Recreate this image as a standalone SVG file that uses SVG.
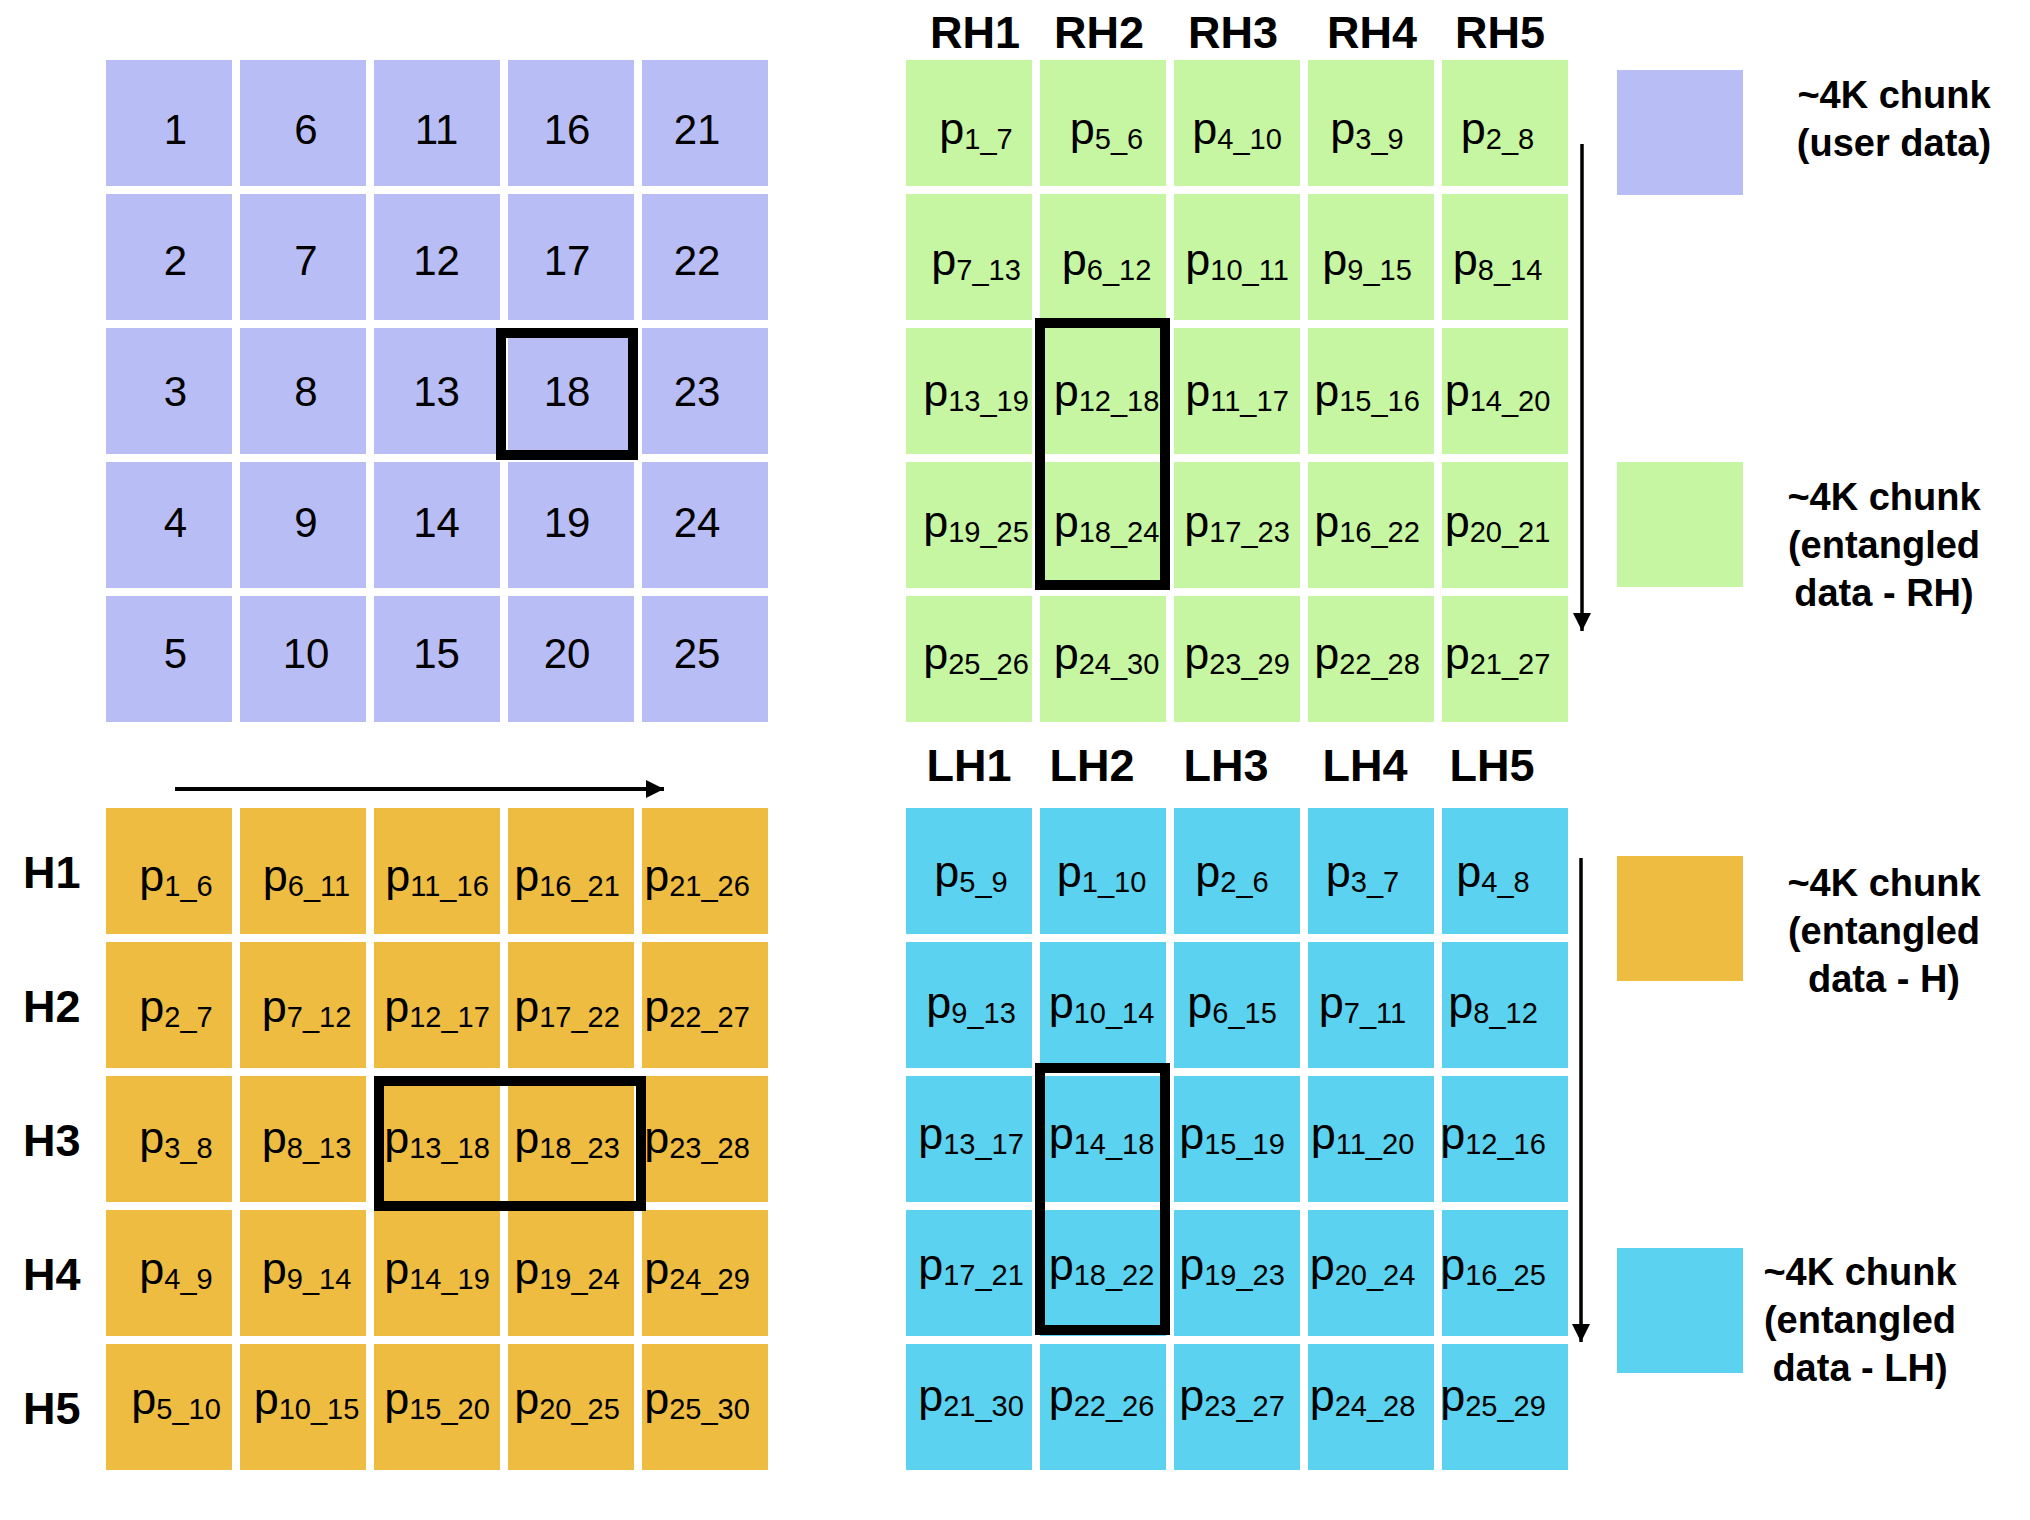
<svg xmlns="http://www.w3.org/2000/svg" width="2030" height="1520" viewBox="0 0 2030 1520">
<style>
text{font-family:"Liberation Sans",Arial,Helvetica,sans-serif;fill:#000}
.b{fill:#B8BDF5}.g{fill:#C6F6A2}.o{fill:#EEBC40}.c{fill:#5BD2EF}
.n{font-size:42px;text-anchor:middle}
.p{font-size:45px;text-anchor:middle}
.s{font-size:29px}
.h{font-size:45px;font-weight:bold;text-anchor:middle}
.hs{font-size:45px;font-weight:bold}
.l{font-size:38px;font-weight:bold;text-anchor:middle}
.hl{fill:none;stroke:#000;stroke-width:10}
.ar{stroke:#000;fill:none;marker-end:url(#ah)}
</style>
<defs>
<marker id="ah" markerUnits="userSpaceOnUse" markerWidth="18" markerHeight="18" refX="18" refY="9" orient="auto" viewBox="0 0 18 18">
<path d="M0,0 L18,9 L0,18 Z" fill="#000"/>
</marker>
</defs>
<rect width="2030" height="1520" fill="#fff"/>

<!-- Blue user data grid -->
<g id="user-data">
<g id="u1"><rect class="b" x="106" y="60" width="126" height="126"/><text class="n" x="175.5" y="144">1</text></g>
<g id="u2"><rect class="b" x="106" y="194" width="126" height="126"/><text class="n" x="175.5" y="275">2</text></g>
<g id="u3"><rect class="b" x="106" y="328" width="126" height="126"/><text class="n" x="175.5" y="406">3</text></g>
<g id="u4"><rect class="b" x="106" y="462" width="126" height="126"/><text class="n" x="175.5" y="537">4</text></g>
<g id="u5"><rect class="b" x="106" y="596" width="126" height="126"/><text class="n" x="175.5" y="668">5</text></g>
<g id="u6"><rect class="b" x="240" y="60" width="126" height="126"/><text class="n" x="306" y="144">6</text></g>
<g id="u7"><rect class="b" x="240" y="194" width="126" height="126"/><text class="n" x="306" y="275">7</text></g>
<g id="u8"><rect class="b" x="240" y="328" width="126" height="126"/><text class="n" x="306" y="406">8</text></g>
<g id="u9"><rect class="b" x="240" y="462" width="126" height="126"/><text class="n" x="306" y="537">9</text></g>
<g id="u10"><rect class="b" x="240" y="596" width="126" height="126"/><text class="n" x="306" y="668">10</text></g>
<g id="u11"><rect class="b" x="374" y="60" width="126" height="126"/><text class="n" x="436.5" y="144">11</text></g>
<g id="u12"><rect class="b" x="374" y="194" width="126" height="126"/><text class="n" x="436.5" y="275">12</text></g>
<g id="u13"><rect class="b" x="374" y="328" width="126" height="126"/><text class="n" x="436.5" y="406">13</text></g>
<g id="u14"><rect class="b" x="374" y="462" width="126" height="126"/><text class="n" x="436.5" y="537">14</text></g>
<g id="u15"><rect class="b" x="374" y="596" width="126" height="126"/><text class="n" x="436.5" y="668">15</text></g>
<g id="u16"><rect class="b" x="508" y="60" width="126" height="126"/><text class="n" x="567" y="144">16</text></g>
<g id="u17"><rect class="b" x="508" y="194" width="126" height="126"/><text class="n" x="567" y="275">17</text></g>
<g id="u18"><rect class="b" x="508" y="328" width="126" height="126"/><text class="n" x="567" y="406">18</text></g>
<g id="u19"><rect class="b" x="508" y="462" width="126" height="126"/><text class="n" x="567" y="537">19</text></g>
<g id="u20"><rect class="b" x="508" y="596" width="126" height="126"/><text class="n" x="567" y="668">20</text></g>
<g id="u21"><rect class="b" x="642" y="60" width="126" height="126"/><text class="n" x="697" y="144">21</text></g>
<g id="u22"><rect class="b" x="642" y="194" width="126" height="126"/><text class="n" x="697" y="275">22</text></g>
<g id="u23"><rect class="b" x="642" y="328" width="126" height="126"/><text class="n" x="697" y="406">23</text></g>
<g id="u24"><rect class="b" x="642" y="462" width="126" height="126"/><text class="n" x="697" y="537">24</text></g>
<g id="u25"><rect class="b" x="642" y="596" width="126" height="126"/><text class="n" x="697" y="668">25</text></g>
</g>

<!-- Green RH grid -->
<g id="rh-grid">
<g id="rh-headers">
<text class="h" x="975" y="48">RH1</text>
<text class="h" x="1099" y="48">RH2</text>
<text class="h" x="1233" y="48">RH3</text>
<text class="h" x="1372" y="48">RH4</text>
<text class="h" x="1500" y="48">RH5</text>
</g>
<g id="rh-1-1"><rect class="g" x="906" y="60" width="126" height="126"/><text class="p" x="976" y="144">p<tspan class="s" dy="5">1_7</tspan></text></g>
<g id="rh-1-2"><rect class="g" x="1040" y="60" width="126" height="126"/><text class="p" x="1106.5" y="144">p<tspan class="s" dy="5">5_6</tspan></text></g>
<g id="rh-1-3"><rect class="g" x="1174" y="60" width="126" height="126"/><text class="p" x="1237" y="144">p<tspan class="s" dy="5">4_10</tspan></text></g>
<g id="rh-1-4"><rect class="g" x="1308" y="60" width="126" height="126"/><text class="p" x="1367" y="144">p<tspan class="s" dy="5">3_9</tspan></text></g>
<g id="rh-1-5"><rect class="g" x="1442" y="60" width="126" height="126"/><text class="p" x="1497.5" y="144">p<tspan class="s" dy="5">2_8</tspan></text></g>
<g id="rh-2-1"><rect class="g" x="906" y="194" width="126" height="126"/><text class="p" x="976" y="275">p<tspan class="s" dy="5">7_13</tspan></text></g>
<g id="rh-2-2"><rect class="g" x="1040" y="194" width="126" height="126"/><text class="p" x="1106.5" y="275">p<tspan class="s" dy="5">6_12</tspan></text></g>
<g id="rh-2-3"><rect class="g" x="1174" y="194" width="126" height="126"/><text class="p" x="1237" y="275">p<tspan class="s" dy="5">10_11</tspan></text></g>
<g id="rh-2-4"><rect class="g" x="1308" y="194" width="126" height="126"/><text class="p" x="1367" y="275">p<tspan class="s" dy="5">9_15</tspan></text></g>
<g id="rh-2-5"><rect class="g" x="1442" y="194" width="126" height="126"/><text class="p" x="1497.5" y="275">p<tspan class="s" dy="5">8_14</tspan></text></g>
<g id="rh-3-1"><rect class="g" x="906" y="328" width="126" height="126"/><text class="p" x="976" y="406">p<tspan class="s" dy="5">13_19</tspan></text></g>
<g id="rh-3-2"><rect class="g" x="1040" y="328" width="126" height="126"/><text class="p" x="1106.5" y="406">p<tspan class="s" dy="5">12_18</tspan></text></g>
<g id="rh-3-3"><rect class="g" x="1174" y="328" width="126" height="126"/><text class="p" x="1237" y="406">p<tspan class="s" dy="5">11_17</tspan></text></g>
<g id="rh-3-4"><rect class="g" x="1308" y="328" width="126" height="126"/><text class="p" x="1367" y="406">p<tspan class="s" dy="5">15_16</tspan></text></g>
<g id="rh-3-5"><rect class="g" x="1442" y="328" width="126" height="126"/><text class="p" x="1497.5" y="406">p<tspan class="s" dy="5">14_20</tspan></text></g>
<g id="rh-4-1"><rect class="g" x="906" y="462" width="126" height="126"/><text class="p" x="976" y="537">p<tspan class="s" dy="5">19_25</tspan></text></g>
<g id="rh-4-2"><rect class="g" x="1040" y="462" width="126" height="126"/><text class="p" x="1106.5" y="537">p<tspan class="s" dy="5">18_24</tspan></text></g>
<g id="rh-4-3"><rect class="g" x="1174" y="462" width="126" height="126"/><text class="p" x="1237" y="537">p<tspan class="s" dy="5">17_23</tspan></text></g>
<g id="rh-4-4"><rect class="g" x="1308" y="462" width="126" height="126"/><text class="p" x="1367" y="537">p<tspan class="s" dy="5">16_22</tspan></text></g>
<g id="rh-4-5"><rect class="g" x="1442" y="462" width="126" height="126"/><text class="p" x="1497.5" y="537">p<tspan class="s" dy="5">20_21</tspan></text></g>
<g id="rh-5-1"><rect class="g" x="906" y="596" width="126" height="126"/><text class="p" x="976" y="669">p<tspan class="s" dy="5">25_26</tspan></text></g>
<g id="rh-5-2"><rect class="g" x="1040" y="596" width="126" height="126"/><text class="p" x="1106.5" y="669">p<tspan class="s" dy="5">24_30</tspan></text></g>
<g id="rh-5-3"><rect class="g" x="1174" y="596" width="126" height="126"/><text class="p" x="1237" y="669">p<tspan class="s" dy="5">23_29</tspan></text></g>
<g id="rh-5-4"><rect class="g" x="1308" y="596" width="126" height="126"/><text class="p" x="1367" y="669">p<tspan class="s" dy="5">22_28</tspan></text></g>
<g id="rh-5-5"><rect class="g" x="1442" y="596" width="126" height="126"/><text class="p" x="1497.5" y="669">p<tspan class="s" dy="5">21_27</tspan></text></g>
</g>

<!-- Orange H grid -->
<g id="h-grid">
<g id="h-labels">
<text class="hs" x="23" y="888">H1</text>
<text class="hs" x="23" y="1022">H2</text>
<text class="hs" x="23" y="1156">H3</text>
<text class="hs" x="23" y="1290">H4</text>
<text class="hs" x="23" y="1424">H5</text>
</g>
<g id="h-1-1"><rect class="o" x="106" y="808" width="126" height="126"/><text class="p" x="176" y="891">p<tspan class="s" dy="5">1_6</tspan></text></g>
<g id="h-1-2"><rect class="o" x="240" y="808" width="126" height="126"/><text class="p" x="306.5" y="891">p<tspan class="s" dy="5">6_11</tspan></text></g>
<g id="h-1-3"><rect class="o" x="374" y="808" width="126" height="126"/><text class="p" x="437" y="891">p<tspan class="s" dy="5">11_16</tspan></text></g>
<g id="h-1-4"><rect class="o" x="508" y="808" width="126" height="126"/><text class="p" x="567" y="891">p<tspan class="s" dy="5">16_21</tspan></text></g>
<g id="h-1-5"><rect class="o" x="642" y="808" width="126" height="126"/><text class="p" x="697" y="891">p<tspan class="s" dy="5">21_26</tspan></text></g>
<g id="h-2-1"><rect class="o" x="106" y="942" width="126" height="126"/><text class="p" x="176" y="1022">p<tspan class="s" dy="5">2_7</tspan></text></g>
<g id="h-2-2"><rect class="o" x="240" y="942" width="126" height="126"/><text class="p" x="306.5" y="1022">p<tspan class="s" dy="5">7_12</tspan></text></g>
<g id="h-2-3"><rect class="o" x="374" y="942" width="126" height="126"/><text class="p" x="437" y="1022">p<tspan class="s" dy="5">12_17</tspan></text></g>
<g id="h-2-4"><rect class="o" x="508" y="942" width="126" height="126"/><text class="p" x="567" y="1022">p<tspan class="s" dy="5">17_22</tspan></text></g>
<g id="h-2-5"><rect class="o" x="642" y="942" width="126" height="126"/><text class="p" x="697" y="1022">p<tspan class="s" dy="5">22_27</tspan></text></g>
<g id="h-3-1"><rect class="o" x="106" y="1076" width="126" height="126"/><text class="p" x="176" y="1153">p<tspan class="s" dy="5">3_8</tspan></text></g>
<g id="h-3-2"><rect class="o" x="240" y="1076" width="126" height="126"/><text class="p" x="306.5" y="1153">p<tspan class="s" dy="5">8_13</tspan></text></g>
<g id="h-3-3"><rect class="o" x="374" y="1076" width="126" height="126"/><text class="p" x="437" y="1153">p<tspan class="s" dy="5">13_18</tspan></text></g>
<g id="h-3-4"><rect class="o" x="508" y="1076" width="126" height="126"/><text class="p" x="567" y="1153">p<tspan class="s" dy="5">18_23</tspan></text></g>
<g id="h-3-5"><rect class="o" x="642" y="1076" width="126" height="126"/><text class="p" x="697" y="1153">p<tspan class="s" dy="5">23_28</tspan></text></g>
<g id="h-4-1"><rect class="o" x="106" y="1210" width="126" height="126"/><text class="p" x="176" y="1284">p<tspan class="s" dy="5">4_9</tspan></text></g>
<g id="h-4-2"><rect class="o" x="240" y="1210" width="126" height="126"/><text class="p" x="306.5" y="1284">p<tspan class="s" dy="5">9_14</tspan></text></g>
<g id="h-4-3"><rect class="o" x="374" y="1210" width="126" height="126"/><text class="p" x="437" y="1284">p<tspan class="s" dy="5">14_19</tspan></text></g>
<g id="h-4-4"><rect class="o" x="508" y="1210" width="126" height="126"/><text class="p" x="567" y="1284">p<tspan class="s" dy="5">19_24</tspan></text></g>
<g id="h-4-5"><rect class="o" x="642" y="1210" width="126" height="126"/><text class="p" x="697" y="1284">p<tspan class="s" dy="5">24_29</tspan></text></g>
<g id="h-5-1"><rect class="o" x="106" y="1344" width="126" height="126"/><text class="p" x="176" y="1414">p<tspan class="s" dy="5">5_10</tspan></text></g>
<g id="h-5-2"><rect class="o" x="240" y="1344" width="126" height="126"/><text class="p" x="306.5" y="1414">p<tspan class="s" dy="5">10_15</tspan></text></g>
<g id="h-5-3"><rect class="o" x="374" y="1344" width="126" height="126"/><text class="p" x="437" y="1414">p<tspan class="s" dy="5">15_20</tspan></text></g>
<g id="h-5-4"><rect class="o" x="508" y="1344" width="126" height="126"/><text class="p" x="567" y="1414">p<tspan class="s" dy="5">20_25</tspan></text></g>
<g id="h-5-5"><rect class="o" x="642" y="1344" width="126" height="126"/><text class="p" x="697" y="1414">p<tspan class="s" dy="5">25_30</tspan></text></g>
</g>

<!-- Cyan LH grid -->
<g id="lh-grid">
<g id="lh-headers">
<text class="h" x="969" y="781">LH1</text>
<text class="h" x="1092" y="781">LH2</text>
<text class="h" x="1226" y="781">LH3</text>
<text class="h" x="1365" y="781">LH4</text>
<text class="h" x="1492" y="781">LH5</text>
</g>
<g id="lh-1-1"><rect class="c" x="906" y="808" width="126" height="126"/><text class="p" x="971" y="887">p<tspan class="s" dy="5">5_9</tspan></text></g>
<g id="lh-1-2"><rect class="c" x="1040" y="808" width="126" height="126"/><text class="p" x="1101.5" y="887">p<tspan class="s" dy="5">1_10</tspan></text></g>
<g id="lh-1-3"><rect class="c" x="1174" y="808" width="126" height="126"/><text class="p" x="1232" y="887">p<tspan class="s" dy="5">2_6</tspan></text></g>
<g id="lh-1-4"><rect class="c" x="1308" y="808" width="126" height="126"/><text class="p" x="1362.5" y="887">p<tspan class="s" dy="5">3_7</tspan></text></g>
<g id="lh-1-5"><rect class="c" x="1442" y="808" width="126" height="126"/><text class="p" x="1493" y="887">p<tspan class="s" dy="5">4_8</tspan></text></g>
<g id="lh-2-1"><rect class="c" x="906" y="942" width="126" height="126"/><text class="p" x="971" y="1018">p<tspan class="s" dy="5">9_13</tspan></text></g>
<g id="lh-2-2"><rect class="c" x="1040" y="942" width="126" height="126"/><text class="p" x="1101.5" y="1018">p<tspan class="s" dy="5">10_14</tspan></text></g>
<g id="lh-2-3"><rect class="c" x="1174" y="942" width="126" height="126"/><text class="p" x="1232" y="1018">p<tspan class="s" dy="5">6_15</tspan></text></g>
<g id="lh-2-4"><rect class="c" x="1308" y="942" width="126" height="126"/><text class="p" x="1362.5" y="1018">p<tspan class="s" dy="5">7_11</tspan></text></g>
<g id="lh-2-5"><rect class="c" x="1442" y="942" width="126" height="126"/><text class="p" x="1493" y="1018">p<tspan class="s" dy="5">8_12</tspan></text></g>
<g id="lh-3-1"><rect class="c" x="906" y="1076" width="126" height="126"/><text class="p" x="971" y="1149">p<tspan class="s" dy="5">13_17</tspan></text></g>
<g id="lh-3-2"><rect class="c" x="1040" y="1076" width="126" height="126"/><text class="p" x="1101.5" y="1149">p<tspan class="s" dy="5">14_18</tspan></text></g>
<g id="lh-3-3"><rect class="c" x="1174" y="1076" width="126" height="126"/><text class="p" x="1232" y="1149">p<tspan class="s" dy="5">15_19</tspan></text></g>
<g id="lh-3-4"><rect class="c" x="1308" y="1076" width="126" height="126"/><text class="p" x="1362.5" y="1149">p<tspan class="s" dy="5">11_20</tspan></text></g>
<g id="lh-3-5"><rect class="c" x="1442" y="1076" width="126" height="126"/><text class="p" x="1493" y="1149">p<tspan class="s" dy="5">12_16</tspan></text></g>
<g id="lh-4-1"><rect class="c" x="906" y="1210" width="126" height="126"/><text class="p" x="971" y="1280">p<tspan class="s" dy="5">17_21</tspan></text></g>
<g id="lh-4-2"><rect class="c" x="1040" y="1210" width="126" height="126"/><text class="p" x="1101.5" y="1280">p<tspan class="s" dy="5">18_22</tspan></text></g>
<g id="lh-4-3"><rect class="c" x="1174" y="1210" width="126" height="126"/><text class="p" x="1232" y="1280">p<tspan class="s" dy="5">19_23</tspan></text></g>
<g id="lh-4-4"><rect class="c" x="1308" y="1210" width="126" height="126"/><text class="p" x="1362.5" y="1280">p<tspan class="s" dy="5">20_24</tspan></text></g>
<g id="lh-4-5"><rect class="c" x="1442" y="1210" width="126" height="126"/><text class="p" x="1493" y="1280">p<tspan class="s" dy="5">16_25</tspan></text></g>
<g id="lh-5-1"><rect class="c" x="906" y="1344" width="126" height="126"/><text class="p" x="971" y="1411">p<tspan class="s" dy="5">21_30</tspan></text></g>
<g id="lh-5-2"><rect class="c" x="1040" y="1344" width="126" height="126"/><text class="p" x="1101.5" y="1411">p<tspan class="s" dy="5">22_26</tspan></text></g>
<g id="lh-5-3"><rect class="c" x="1174" y="1344" width="126" height="126"/><text class="p" x="1232" y="1411">p<tspan class="s" dy="5">23_27</tspan></text></g>
<g id="lh-5-4"><rect class="c" x="1308" y="1344" width="126" height="126"/><text class="p" x="1362.5" y="1411">p<tspan class="s" dy="5">24_28</tspan></text></g>
<g id="lh-5-5"><rect class="c" x="1442" y="1344" width="126" height="126"/><text class="p" x="1493" y="1411">p<tspan class="s" dy="5">25_29</tspan></text></g>
</g>

<!-- Highlight boxes -->
<g id="highlights">
<rect class="hl" x="501" y="333" width="132" height="122"/>
<rect class="hl" x="1040" y="323" width="125" height="262"/>
<rect class="hl" x="379" y="1081" width="262" height="125"/>
<rect class="hl" x="1040" y="1068" width="125" height="262"/>
</g>

<!-- Legend -->
<g id="legend-user">
<rect class="b" x="1617" y="70" width="126" height="125"/>
<text class="l" x="1894" y="108">~4K chunk</text>
<text class="l" x="1894" y="156">(user data)</text>
</g>
<g id="legend-rh">
<rect class="g" x="1617" y="462" width="126" height="125"/>
<text class="l" x="1884" y="510">~4K chunk</text>
<text class="l" x="1884" y="558">(entangled</text>
<text class="l" x="1884" y="606">data - RH)</text>
</g>
<g id="legend-h">
<rect class="o" x="1617" y="856" width="126" height="125"/>
<text class="l" x="1884" y="896">~4K chunk</text>
<text class="l" x="1884" y="944">(entangled</text>
<text class="l" x="1884" y="992">data - H)</text>
</g>
<g id="legend-lh">
<rect class="c" x="1617" y="1248" width="126" height="125"/>
<text class="l" x="1860" y="1285">~4K chunk</text>
<text class="l" x="1860" y="1333">(entangled</text>
<text class="l" x="1860" y="1381">data - LH)</text>
</g>

<!-- Connectors (direction arrows) -->
<g id="connectors">
<line class="ar" x1="175" y1="789" x2="664" y2="789" stroke-width="4"/>
<line class="ar" x1="1582" y1="144" x2="1582" y2="631" stroke-width="3.5"/>
<line class="ar" x1="1581" y1="858" x2="1581" y2="1342" stroke-width="3.5"/>
</g>
</svg>
